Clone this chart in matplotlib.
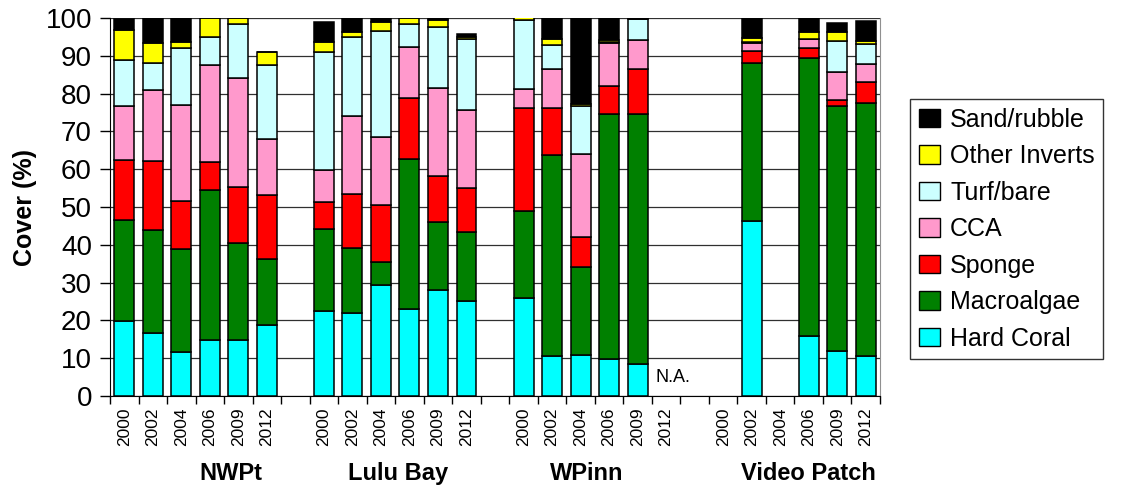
import matplotlib
matplotlib.use("Agg")
import matplotlib.pyplot as plt
import numpy as np
from matplotlib.patches import Patch

years = ["2000", "2002", "2004", "2006", "2009", "2012"]
sites = ["NWPt", "Lulu Bay", "WPinn", "Video Patch"]

# values per site (6 years each), None = no data
hard_coral = [19.9, 16.6, 11.7, 14.8, 14.8, 18.8,
              22.5, 22.0, 29.4, 22.9, 28.0, 25.2,
              26.0, 10.6, 10.9, 9.7, 8.5, None,
              None, 46.3, None, 16.0, 11.9, 10.6]
macroalgae = [26.7, 27.2, 27.2, 39.7, 25.6, 17.4,
              21.7, 17.2, 6.0, 39.8, 18.1, 18.3,
              23.0, 53.2, 23.1, 65.0, 66.2, None,
              None, 41.8, None, 73.4, 64.9, 66.9]
sponge = [15.9, 18.5, 12.8, 7.5, 14.8, 16.9,
          7.2, 14.3, 15.2, 16.2, 12.0, 11.4,
          27.1, 12.5, 8.0, 7.4, 11.9, None,
          None, 3.1, None, 2.7, 1.6, 5.7]
cca = [14.3, 18.6, 25.2, 25.5, 28.8, 14.9,
       8.4, 20.6, 18.0, 13.5, 23.5, 20.8,
       5.1, 10.3, 22.1, 11.3, 7.5, None,
       None, 2.3, None, 2.3, 7.4, 4.6]
turf_bare = [12.1, 7.2, 15.2, 7.4, 14.4, 19.5,
             31.1, 20.9, 28.0, 6.1, 15.9, 18.7,
             18.2, 6.2, 12.7, 0.3, 5.7, None,
             None, 0.2, None, 0.0, 8.0, 5.4]
other_inverts = [7.9, 5.3, 1.5, 5.1, 1.6, 3.4,
                 2.7, 1.2, 2.3, 1.5, 2.1, 0.7,
                 0.9, 1.7, 0.5, 0.6, 0.0, None,
                 None, 1.0, None, 1.8, 2.5, 0.7]
sand_rubble = [3.0, 6.6, 6.4, 0.0, 0.0, 0.0,
               5.3, 3.8, 1.1, 0.0, 0.4, 0.7,
               0.0, 5.4, 23.4, 6.1, 0.2, None,
               None, 5.5, None, 4.2, 2.4, 5.4]

series_names = ["Hard Coral", "Macroalgae", "Sponge", "CCA", "Turf/bare",
                "Other Inverts", "Sand/rubble"]
series_values = [hard_coral, macroalgae, sponge, cca, turf_bare,
                 other_inverts, sand_rubble]
colors = ["#00FFFF", "#008000", "#FF0000", "#FF99CC", "#CCFFFF",
          "#FFFF00", "#000000"]

fig = plt.figure(figsize=(11.29, 4.90), dpi=100)
ax = fig.add_axes([110 / 1129, 1 - 396 / 490, 770 / 1129, 378 / 490])

# slot positions: 6 per site, one empty slot between sites
positions = []
for g in range(len(sites)):
    for k in range(len(years)):
        positions.append(g * 7 + k)
positions = np.array(positions, dtype=float)

bottom = np.zeros(len(positions))
for name, vals, col in zip(series_names, series_values, colors):
    v = np.array([np.nan if x is None else x for x in vals], dtype=float)
    mask = ~np.isnan(v)
    ax.bar(positions[mask], v[mask], bottom=bottom[mask], width=0.7,
           color=col, edgecolor="black", linewidth=1.1, zorder=3)
    bottom[mask] += v[mask]

ax.set_xlim(-0.5, 26.5)
ax.set_ylim(0, 100)
ax.set_yticks(np.arange(0, 101, 10))
ax.yaxis.grid(True, color="#303030", linewidth=0.9, zorder=0)
ax.set_axisbelow(True)
ax.tick_params(axis="y", labelsize=20, length=7, width=1, pad=6, direction="out")
for lab in ax.get_yticklabels():
    lab.set_fontfamily(["Liberation Sans", "DejaVu Sans"])

# x ticks between slots, labels at slot centres
ax.set_xticks(np.arange(-0.5, 27, 1.0))
ax.set_xticklabels([])
ax.tick_params(axis="x", which="major", length=6, width=1, direction="out")
ax.set_xticks(positions, minor=True)
ax.set_xticklabels(years * len(sites), minor=True, rotation=90, fontsize=12.5,
                   fontfamily=["Liberation Sans", "DejaVu Sans"])
ax.tick_params(axis="x", which="minor", length=0, pad=8)

ax.spines["top"].set_visible(False)
ax.spines["right"].set_color("#909090")
ax.spines["left"].set_color("black")
ax.spines["bottom"].set_color("black")

ax.set_ylabel("Cover (%)", fontsize=18, fontweight="bold",
              fontfamily=["Liberation Sans", "DejaVu Sans"], labelpad=6)

# site labels
site_x = [3.75, 9.6, 16.2, 24.0]
for s, x in zip(sites, site_x):
    ax.text(x, -20.5, s, ha="center", va="center", fontsize=17,
            fontweight="bold", fontfamily=["Liberation Sans Narrow", "Liberation Sans", "DejaVu Sans"],
            transform=ax.transData, clip_on=False)

ax.text(18.62, 5.0, "N.A.", ha="left", va="center", fontsize=13,
        fontfamily=["Liberation Sans", "DejaVu Sans"], zorder=4)

handles = [Patch(facecolor=c, edgecolor="black", linewidth=1.0, label=n)
           for n, c in zip(series_names, colors)]
leg = fig.legend(handles[::-1], series_names[::-1], loc="upper left",
                 bbox_to_anchor=(910 / 1129, 1 - 99 / 490),
                 frameon=True, fancybox=False, edgecolor="black",
                 handlelength=0.85, handleheight=0.75, handletextpad=0.4,
                 labelspacing=0.5, borderpad=0.35, borderaxespad=0,
                 prop={"family": ["Liberation Sans", "DejaVu Sans"], "size": 18})
leg.get_frame().set_linewidth(1.0)

fig.savefig("out.png", dpi=100)
